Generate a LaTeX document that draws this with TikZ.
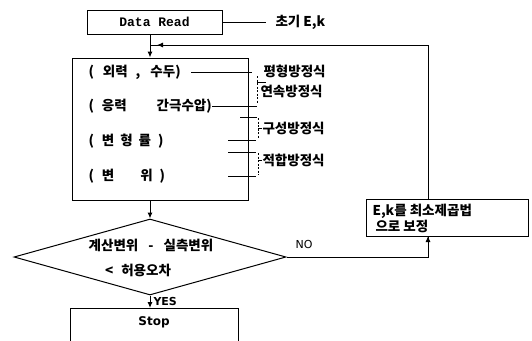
\documentclass[tikz,border=0pt]{standalone}
\usepackage{fontspec}
\usetikzlibrary{arrows.meta,shapes.geometric}
\newfontfamily\kr{Noto Sans CJK KR}
\newfontfamily\monof{Liberation Mono}
\newfontfamily\sansf{DejaVu Sans}
\begin{document}
\begin{tikzpicture}[x=1pt,y=-1pt,
  line width=1pt,
  box/.style={draw,rectangle,inner sep=0pt},
  kt/.style={font=\kr\bfseries\fontsize{13.5}{15}\selectfont,inner sep=0pt},
  arr/.style={-{Latex[length=6pt,width=5pt]}},
  brk/.style={line width=0.7pt,dash pattern=on 2pt off 1.5pt}]
\clip (0,0) rectangle (532,340);
\fill[white] (0,0) rectangle (532,340);
% Data Read
\node[box,minimum width=135pt,minimum height=24pt] (dr) at (154.5,22) {\monof\bfseries\fontsize{13}{15}\selectfont Data Read};
\node[kt,anchor=west,inner xsep=9pt] (ek0) at (266,22) {초기 E,k};
\draw (dr.east) -- (ek0.west);
% main box
\node[box,minimum width=176pt,minimum height=142pt] (main) at (160,129) {};
\node[kt,anchor=west] (r1) at (88,72) {(\hspace{9pt}외력\hspace{8pt},\hspace{10pt}수두)};
\node[kt,anchor=west] (r2) at (88,106) {(\hspace{8pt}응력\hspace{30pt}간극수압)};
\node[kt,anchor=west] (r3) at (88,141) {(\hspace{8pt}변\hspace{6pt}형\hspace{6pt}률\hspace{7pt})};
\node[kt,anchor=west] (r4) at (88,176) {(\hspace{8pt}변\hspace{26pt}위\hspace{7pt})};
% right labels
\node[kt,anchor=west] (l1) at (263,71) {평형방정식};
\node[kt,anchor=west] (l2) at (260,91) {연속방정식};
\node[kt,anchor=west] (l3) at (262,128) {구성방정식};
\node[kt,anchor=west] (l4) at (262,160) {적합방정식};
% ticks
\draw[line width=0.7pt] (r1.east) ++(10,0) -- (252,72);
\draw[line width=0.7pt] (r2.east) -- (257,106);
\draw[line width=0.7pt] (240,117) -- (257,117);
\draw[line width=0.7pt] (228,140) -- (256,140);
\draw[line width=0.7pt] (228,152) -- (256,152);
\draw[line width=0.7pt] (228,176) -- (256,176);
% brackets
\draw[brk] (257,76) -- (257,103);
\draw[line width=0.7pt] (257,82) -- (266,82);
\draw[brk] (258,118) -- (258,139);
\draw[line width=0.7pt] (258,128) -- (l3.west);
\draw[brk] (258,153) -- (258,175);
\draw[line width=0.7pt] (258,160) -- (l4.west);
% feedback
\coordinate (join) at (150,45);
\coordinate (ekt) at (428,200);
\coordinate (ekb) at (428,236);
\node[box,minimum width=162pt,minimum height=37pt] (ek) at (447,218) {};
\node[kt,anchor=north west,align=left,font=\kr\bfseries\fontsize{13.5}{10}\selectfont] (ekt1) at (372,204) {E,k를 최소제곱법\\\hspace{3pt}으로 보정};
\draw (ekt) |- (join);
\draw[arr] (ekt |- join) -- (157,45);
\draw[arr] (dr.south -| join) -- (join |- main.north);
% diamond
\node[draw,diamond,inner sep=0pt,minimum width=272pt,minimum height=76pt,aspect=3.6] (dia) at (150,257) {};
\node[kt] (t1) at (151,245) {계산변위\hspace{10pt}-\hspace{10pt}실측변위};
\node[kt] (t2) at (138,270) {<\hspace{8pt}허용오차};
\draw[arr] (join |- main.south) -- (dia.north);
% NO
\draw (dia.east) -| (ekb);
\draw[arr] (428,250) -- (ekb);
\node[font=\sansf\fontsize{11}{13}\selectfont,anchor=south] (no) at (304,252) {NO};
% Stop
\node[box,minimum width=168pt,minimum height=50pt,anchor=north] (stop) at (154,308) {};
\node[font=\sansf\bfseries\fontsize{12}{14}\selectfont] (st) at (154,322) {Stop};
\draw[arr] (dia.south) -- (dia.south |- stop.north);
\node[font=\sansf\bfseries\fontsize{11}{13}\selectfont,anchor=west,inner sep=1pt] (yes) at (152,301) {YES};
\end{tikzpicture}
\end{document}
